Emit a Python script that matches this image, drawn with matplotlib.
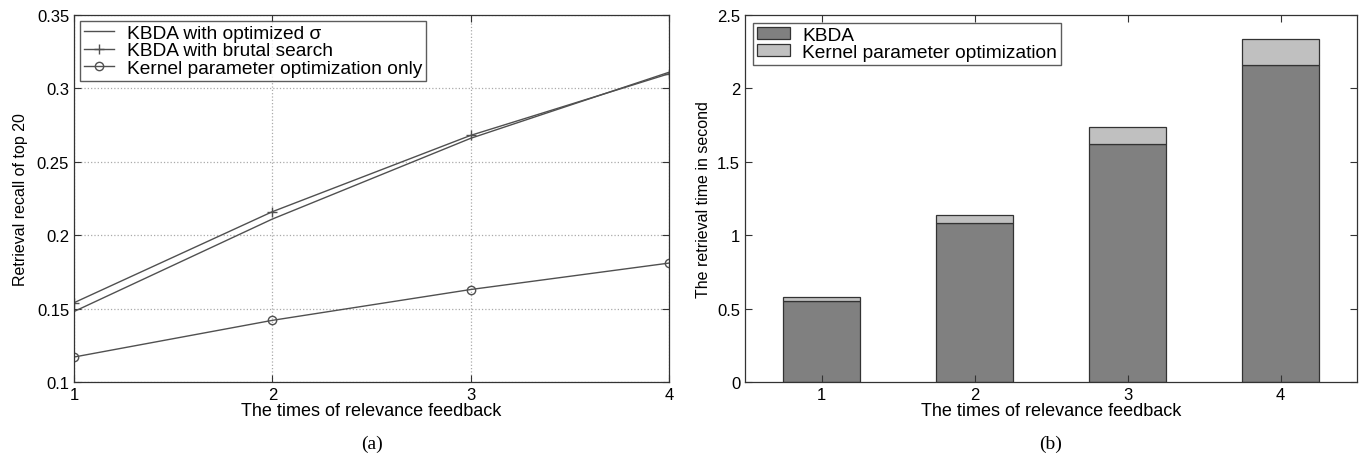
import numpy as np
import matplotlib.pyplot as plt

plt.rcParams['font.family'] = ['Liberation Sans', 'DejaVu Sans']

# left panel: recall of top 20
feedback = [1, 2, 3, 4]
recall_opt_sigma = [0.148, 0.211, 0.266, 0.311]
recall_brutal = [0.154, 0.216, 0.268, 0.310]
recall_kernel_only = [0.117, 0.142, 0.163, 0.181]

# right panel: retrieval time
time_kbda = [0.555, 1.08, 1.62, 2.16]
time_kernel_opt = [0.025, 0.06, 0.115, 0.175]

line_col = '#505050'

fig = plt.figure(figsize=(13.6, 4.56), dpi=100)
ax1 = fig.add_axes([74 / 1360, 73 / 456, 595 / 1360, 367 / 456])
ax2 = fig.add_axes([745 / 1360, 73 / 456, 612 / 1360, 367 / 456])

# (a)
ax1.plot(feedback, recall_opt_sigma, color=line_col, lw=1.0, label='KBDA with optimized σ')
ax1.plot(feedback, recall_brutal, color=line_col, lw=1.0, marker='+', ms=7, label='KBDA with brutal search')
ax1.plot(feedback, recall_kernel_only, color=line_col, lw=1.0, marker='o', ms=6, mfc='none',
         label='Kernel parameter optimization only')
ax1.set_xlim(1, 4)
ax1.set_ylim(0.1, 0.35)
ax1.set_xticks(feedback)
ax1.set_yticks(np.arange(0.1, 0.351, 0.05))
ax1.set_yticklabels(['0.1', '0.15', '0.2', '0.25', '0.3', '0.35'])
ax1.grid(True, linestyle=':', color='#aaaaaa', lw=0.9)
ax1.set_xlabel('The times of relevance feedback', fontsize=13, labelpad=0)
ax1.set_ylabel('Retrieval recall of top 20', fontsize=11.5, labelpad=6)
ax1.legend(loc='upper left', fontsize=13.8, frameon=True, fancybox=False, edgecolor='#333333',
           handlelength=1.6, handletextpad=0.64, borderpad=0.2, labelspacing=0.0, borderaxespad=0.3)
ax1.text(0.5, -0.166, '(a)', transform=ax1.transAxes, ha='center', va='center',
         fontsize=14, family=['Liberation Serif', 'DejaVu Serif'])

# (b)
ax2.bar(feedback, time_kbda, width=0.5, color='#808080', edgecolor='#333333', lw=0.9, label='KBDA')
ax2.bar(feedback, time_kernel_opt, width=0.5, bottom=time_kbda, color='#c0c0c0', edgecolor='#333333',
        lw=0.9, label='Kernel parameter optimization')
ax2.set_xlim(0.5, 4.5)
ax2.set_ylim(0, 2.5)
ax2.set_xticks(feedback)
ax2.set_yticks([0, 0.5, 1, 1.5, 2, 2.5])
ax2.set_yticklabels(['0', '0.5', '1', '1.5', '2', '2.5'])
ax2.set_xlabel('The times of relevance feedback', fontsize=13, labelpad=0)
ax2.set_ylabel('The retrieval time in second', fontsize=11.5, labelpad=4)
ax2.legend(loc='upper left', fontsize=13.8, frameon=True, fancybox=False, edgecolor='#333333',
           handlelength=1.75, handleheight=0.65, handletextpad=0.64, borderpad=0.2, labelspacing=0.0,
           borderaxespad=0.4)
ax2.text(0.5, -0.166, '(b)', transform=ax2.transAxes, ha='center', va='center',
         fontsize=14, family=['Liberation Serif', 'DejaVu Serif'])

for ax in (ax1, ax2):
    ax.tick_params(direction='in', top=True, right=True, labelsize=12, length=5, color='#333333')
    for s in ax.spines.values():
        s.set_color('#333333')
        s.set_linewidth(0.9)

fig.savefig('out.png', dpi=100)
